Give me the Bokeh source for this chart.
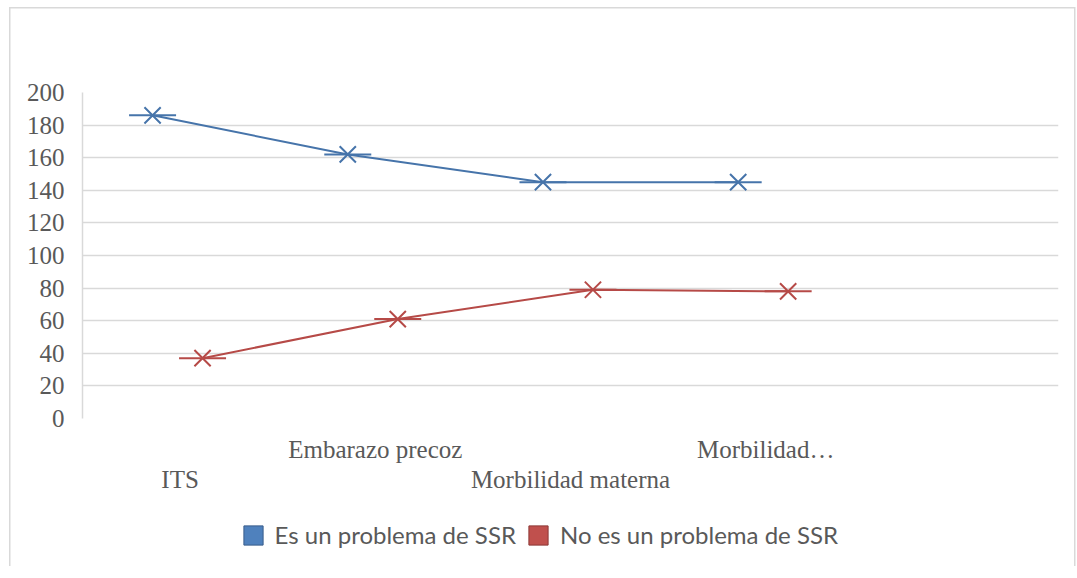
from bokeh.plotting import figure
from bokeh.layouts import column
from bokeh.models import (Range1d, FixedTicker, LinearAxis, Legend, LegendItem,
                          ColumnDataSource)
from bokeh.embed import file_html
from bokeh.resources import INLINE

# ---- data ----
categories = ["ITS", "Embarazo precoz", "Morbilidad materna", "Morbilidad…"]
es_problema = [186, 162, 145, 145]
no_es_problema = [37, 61, 79, 78]
series_names = ["Es un problema de SSR", "No es un problema de SSR"]
y_ticks = [0, 20, 40, 60, 80, 100, 120, 140, 160, 180, 200]
n_slots = 5  # Excel category slots (last one empty)

# ---- style ----
BLUE_LINE = "#4674AA"
RED_LINE = "#B64A47"
BLUE_FILL, BLUE_EDGE = "#4F81BD", "#385D8A"
RED_FILL, RED_EDGE = "#C0504D", "#8C3836"
GRID = "#D9D9D9"
TXT = "#595959"
SERIF = "Liberation Serif"
SANS = "Lato"

blue_off, red_off = -0.141, 0.115
centers = [i + 0.5 for i in range(len(categories))]

src_a = ColumnDataSource(dict(x=[c + blue_off for c in centers], y=es_problema))
src_b = ColumnDataSource(dict(x=[c + red_off for c in centers], y=no_es_problema))

p = figure(width=1077, height=498, output_backend="svg", toolbar_location=None,
           x_range=Range1d(0, n_slots), y_range=Range1d(0, 200),
           min_border_left=82, min_border_right=19, min_border_top=92,
           min_border_bottom=80)
p.outline_line_color = None
p.background_fill_color = "white"
p.border_fill_alpha = 0

# grid
p.xgrid.visible = False
p.ygrid.grid_line_color = GRID
p.ygrid.grid_line_width = 1.5

# y axis
p.yaxis.ticker = FixedTicker(ticks=y_ticks)
p.yaxis.axis_line_color = GRID
p.yaxis.axis_line_width = 1.5
p.yaxis.major_tick_line_color = None
p.yaxis.minor_tick_line_color = None
p.yaxis.major_label_text_font = SERIF
p.yaxis.major_label_text_font_size = "25px"
p.yaxis.major_label_text_color = TXT
p.yaxis.major_label_standoff = 12

# x axes (staggered labels)
upper = [c for i, c in enumerate(centers) if i % 2 == 1]
lower = [c for i, c in enumerate(centers) if i % 2 == 0]

def style_x(ax, ticks, standoff):
    ax.ticker = FixedTicker(ticks=ticks)
    ax.major_label_overrides = {t: categories[centers.index(t)] for t in ticks}
    ax.axis_line_color = None
    ax.major_tick_line_color = None
    ax.minor_tick_line_color = None
    ax.major_tick_out = 0
    ax.major_tick_in = 0
    ax.major_label_text_font = SERIF
    ax.major_label_text_font_size = "25px"
    ax.major_label_text_color = TXT
    ax.major_label_standoff = standoff

style_x(p.xaxis[0], upper, 17)
ax2 = LinearAxis()
style_x(ax2, lower, 0)
p.add_layout(ax2, "below")

# series
for src, col in ((src_a, BLUE_LINE), (src_b, RED_LINE)):
    p.line("x", "y", source=src, line_color=col, line_width=2)
    p.scatter("x", "y", source=src, marker="dash", size=47, line_color=col, line_width=2)
    p.scatter("x", "y", source=src, marker="x", size=23, line_color=col, line_width=2)

# ---- legend strip (separate canvas below the chart) ----
lg = figure(width=1077, height=68, output_backend="svg", toolbar_location=None,
            x_range=Range1d(0, 1), y_range=Range1d(0, 1),
            x_axis_location=None, y_axis_location=None,
            min_border_left=0, min_border_right=0, min_border_top=0,
            min_border_bottom=0)
lg.grid.visible = False
lg.outline_line_color = None
lg.background_fill_alpha = 0
lg.border_fill_alpha = 0

nan = float("nan")
sw = dict(left=[nan], right=[nan], top=[nan], bottom=[nan])
qa = lg.quad(**sw, fill_color=BLUE_FILL, line_color=BLUE_EDGE, line_width=1)
qb = lg.quad(**sw, fill_color=RED_FILL, line_color=RED_EDGE, line_width=1)

legend = Legend(items=[LegendItem(label=series_names[0], renderers=[qa]),
                       LegendItem(label=series_names[1], renderers=[qb])],
                location=(158.6, 17), orientation="horizontal",
                padding=0, margin=0, spacing=10, label_standoff=10,
                glyph_width=24, glyph_height=24,
                label_text_font=SANS, label_text_font_size="24px",
                label_text_color=TXT, border_line_color=None,
                background_fill_alpha=0)
lg.add_layout(legend, "center")

g = "linear-gradient(#D9D9D9,#D9D9D9)"
layout = column(p, lg, spacing=0, width=1077)
layout.styles = {
    "background": f"{g} 9px 7px / 1.5px 600px no-repeat, "
                  f"{g} 9px 7px / 1066px 1.5px no-repeat, "
                  f"{g} 1074px 7px / 1.5px 600px no-repeat",
}

open("out.html", "w").write(file_html(layout, INLINE))
